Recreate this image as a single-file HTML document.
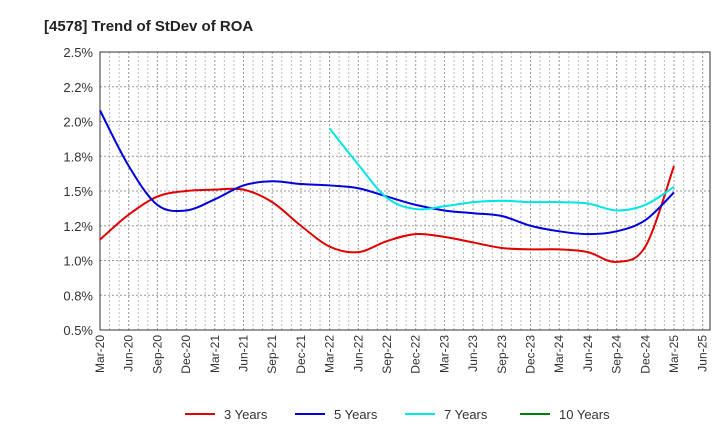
<!DOCTYPE html>
<html><head><meta charset="utf-8"><style>
body{margin:0;background:#fff;font-family:"Liberation Sans",Arial,sans-serif}
svg text{font-family:"Liberation Sans",Arial,sans-serif}
</style></head><body>
<svg id="c" width="720" height="440">
<text x="44" y="31" font-size="15" font-weight="bold" fill="#222">[4578]  Trend of StDev of ROA</text>
<g id="grid"></g><g id="axes"></g><g id="series"></g><g id="legend"></g>
</svg>
<script>
const quarters=["Mar-20","Jun-20","Sep-20","Dec-20","Mar-21","Jun-21","Sep-21","Dec-21","Mar-22","Jun-22","Sep-22","Dec-22","Mar-23","Jun-23","Sep-23","Dec-23","Mar-24","Jun-24","Sep-24","Dec-24","Mar-25","Jun-25"];
const yTicks=[0.5,0.75,1.0,1.25,1.5,1.75,2.0,2.25,2.5];
const yTickLabels=["0.5%","0.8%","1.0%","1.2%","1.5%","1.8%","2.0%","2.2%","2.5%"];
const red3=[1.15,1.33,1.46,1.50,1.51,1.51,1.42,1.25,1.10,1.06,1.14,1.19,1.17,1.13,1.09,1.08,1.08,1.06,0.99,1.10,1.68];
const blue5=[2.08,1.68,1.40,1.36,1.44,1.54,1.57,1.55,1.54,1.52,1.46,1.40,1.36,1.34,1.32,1.25,1.21,1.19,1.21,1.29,1.49];
const cyan7=[null,null,null,null,null,null,null,null,1.95,1.69,1.45,1.37,1.39,1.42,1.43,1.42,1.42,1.41,1.36,1.40,1.53];
const green10=[];
const L=100,R=710,T=52,B=330,STEP=28.7;
const x=i=>L+i*STEP, y=v=>B-(v-0.5)/2.0*(B-T);
const NS="http://www.w3.org/2000/svg";
function mk(t,a,p){const e=document.createElementNS(NS,t);for(const k in a)e.setAttribute(k,a[k]);p.appendChild(e);return e;}
const grid=document.getElementById('grid'),axes=document.getElementById('axes'),ser=document.getElementById('series'),leg=document.getElementById('legend');
for(let m=0;m<=64;m++){const xx=L+m*STEP/3;if(xx>=R)break;
 const g=mk('line',{x1:xx,x2:xx,y1:T,y2:B,stroke:m%3===0?'#999':'#bbb','stroke-width':1,'stroke-dasharray':'2,2'},grid);
 
 }
yTicks.forEach((v,i)=>{const g=mk('line',{x1:L,x2:R,y1:y(v),y2:y(v),stroke:'#999','stroke-dasharray':'2,2'},grid);
 
 
 const t=mk('text',{x:L-7,y:y(v)+5,'text-anchor':'end','font-size':13,fill:'#333'},axes);t.textContent=yTickLabels[i];
 
 });
const fr=mk('rect',{x:L,y:T,width:R-L,height:B-T,fill:'none',stroke:'#333'},axes);


quarters.forEach((q,i)=>{const t=mk('text',{transform:`translate(${x(i)+4},${B+5}) rotate(-90)`,'text-anchor':'end','font-size':12,fill:'#333'},axes);t.textContent=q;
 
 });
function path(arr){const pts=[];arr.forEach((v,i)=>{if(v!=null)pts.push([x(i),y(v)]);});if(pts.length<2)return'';
 let d=`M${pts[0][0]},${pts[0][1]}`;
 for(let i=0;i<pts.length-1;i++){const p0=pts[i-1]||pts[i],p1=pts[i],p2=pts[i+1],p3=pts[i+2]||p2;
  d+=` C${p1[0]+(p2[0]-p0[0])/6},${p1[1]+(p2[1]-p0[1])/6} ${p2[0]-(p3[0]-p1[0])/6},${p2[1]-(p3[1]-p1[1])/6} ${p2[0]},${p2[1]}`;}
 return d;}
[[red3,'#e00000','series-3-years'],[blue5,'#0000dd','series-5-years'],[cyan7,'#00e5e5','series-7-years'],[green10,'#008000','series-10-years']].forEach(([a,c,n])=>{
 const d=path(a);if(!d)return;const p=mk('path',{d,fill:'none',stroke:c,'stroke-width':2},ser);
 
 });
[['3 Years','#e00000',185],['5 Years','#0000dd',295],['7 Years','#00e5e5',405],['10 Years','#008000',520]].forEach(([l,c,lx])=>{
 const g=mk('g',{},leg);
 
 
 mk('line',{x1:lx,x2:lx+30,y1:414,y2:414,stroke:c,'stroke-width':2},g);
 const t=mk('text',{x:lx+39,y:419,'font-size':13,fill:'#333'},g);t.textContent=l;});
</script>
</body></html>
